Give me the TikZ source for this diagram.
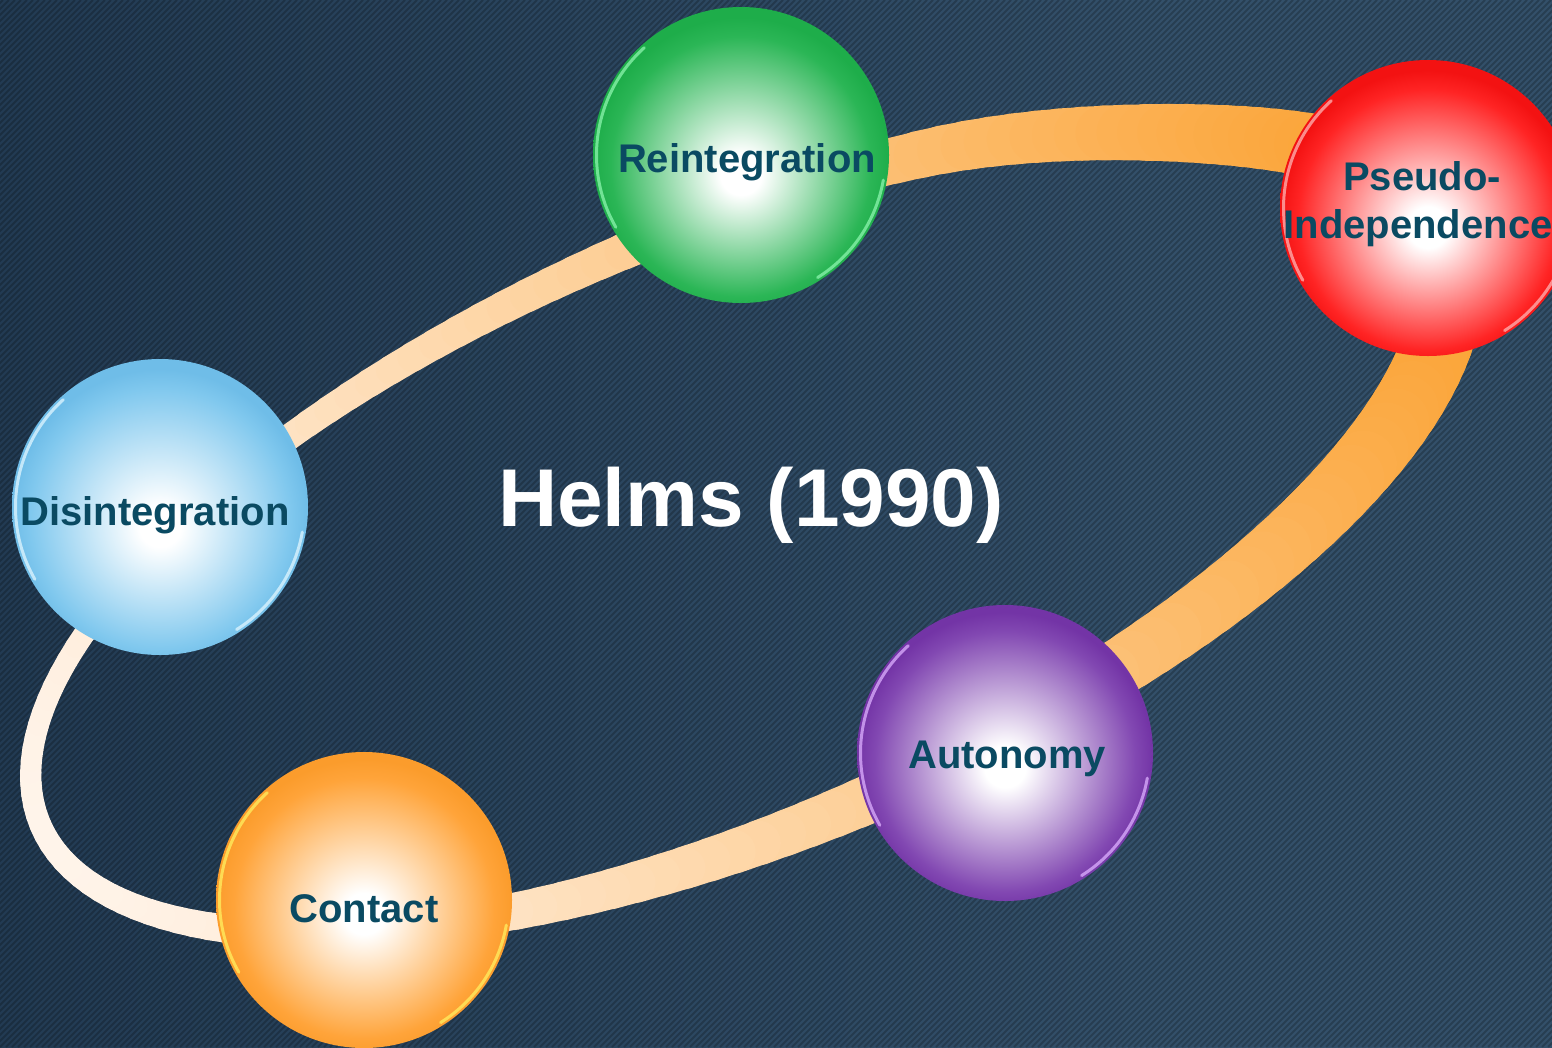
\documentclass[tikz,border=0pt]{standalone}
\usepackage{fontspec}
\setmainfont{Liberation Sans}

% backdrop
\definecolor{bgdark}{HTML}{223B53}
\definecolor{bglight}{HTML}{33506A}
% band
\definecolor{bandcream}{HTML}{FFF4EA}
\definecolor{bandorange}{HTML}{FBA232}
% labels
\definecolor{labelC}{HTML}{0A4A62}
% balls: body, edge, rim light
\definecolor{greenC}{HTML}{2BB656}\definecolor{greenD}{HTML}{1EAD4A}\definecolor{greenL}{HTML}{8CF5AE}
\definecolor{redC}{HTML}{FF2424}\definecolor{redD}{HTML}{F31212}\definecolor{redL}{HTML}{FFB4B4}
\definecolor{blueC}{HTML}{80C8EE}\definecolor{blueD}{HTML}{6FBDE8}\definecolor{blueL}{HTML}{E0F6FF}
\definecolor{orangeC}{HTML}{FFA43A}\definecolor{orangeD}{HTML}{FB9C2C}\definecolor{orangeL}{HTML}{FFF060}
\definecolor{purpleC}{HTML}{8248B2}\definecolor{purpleD}{HTML}{7334A6}\definecolor{purpleL}{HTML}{DDB0FF}

\pgfdeclarehorizontalshading{backdrop}{100bp}{color(0bp)=(bgdark); color(25bp)=(bgdark); color(62bp)=(bglight); color(75bp)=(bglight); color(100bp)=(bglight)}
\pgfdeclareradialshading{ballgreen}{\pgfpoint{0bp}{-3.5bp}}{color(0bp)=(white); color(3.5bp)=(white); color(22bp)=(greenC); color(25bp)=(greenD); color(50bp)=(greenD)}
\pgfdeclareradialshading{ballred}{\pgfpoint{0bp}{-3.5bp}}{color(0bp)=(white); color(3.5bp)=(white); color(22bp)=(redC); color(25bp)=(redD); color(50bp)=(redD)}
\pgfdeclareradialshading{ballblue}{\pgfpoint{0bp}{-3.5bp}}{color(0bp)=(white); color(3.5bp)=(white); color(22bp)=(blueC); color(25bp)=(blueD); color(50bp)=(blueD)}
\pgfdeclareradialshading{ballorange}{\pgfpoint{0bp}{-2.5bp}}{color(0bp)=(white); color(3.5bp)=(white); color(22bp)=(orangeC); color(25bp)=(orangeD); color(50bp)=(orangeD)}
\pgfdeclareradialshading{ballpurple}{\pgfpoint{0bp}{-2.5bp}}{color(0bp)=(white); color(3.5bp)=(white); color(22bp)=(purpleC); color(25bp)=(purpleD); color(50bp)=(purpleD)}

\begin{document}
\begin{tikzpicture}[x=1pt, y=-1pt,
  declare function={
    bump(\t)=12*max(0,1-((\t+38)/28)*((\t+38)/28))*max(0,1-((\t+38)/28)*((\t+38)/28));
    ex(\t)=740+760*cos(\t)*cos(23)+(300*sin(\t)+bump(\t))*sin(23);
    ey(\t)=528-760*cos(\t)*sin(23)+(300*sin(\t)+bump(\t))*cos(23);
    bw(\t)=44+24*cos(\t)+2*cos(2*\t)+6*sin(\t);
    bp(\t)=100*((1+cos(\t))/2)*(0.8+0.1*(1+cos(\t)));
  },
  stripe/.style={draw=black, opacity=0.22, line width=2},
  ball/.style={circle, minimum size=296, inner sep=0, shading=#1},
  rim/.style={draw=#1, line width=3, line cap=round, opacity=0.75},
  lbl/.style={text=labelC, font=\bfseries\fontsize{40}{48}\selectfont, anchor=base, inner sep=0},
  heading/.style={text=white, font=\bfseries\fontsize{82}{96}\selectfont, anchor=base, inner sep=0}
]
\useasboundingbox (0,0) rectangle (1552,1047);

% textured backdrop
\shade[shading=backdrop] (0,0) rectangle (1552,1047);
\begin{scope}
  \clip (0,0) rectangle (1552,1047);
  \draw[stripe] foreach \i in {-1056,-1050,...,1560} {(\i,1047) -- ++(1047,-1047)};
\end{scope}

% the cycle band: width and colour change along the loop
\foreach \t in {-180,-178,...,178} {
  \pgfmathsetmacro{\w}{bw(\t+1)}
  \pgfmathsetmacro{\p}{bp(\t+1)}
  \draw[line width=\w, line cap=round, draw=bandorange!\p!bandcream]
    ({ex(\t)},{ey(\t)}) -- ({ex(\t+2)},{ey(\t+2)});
}

% stages
\node[ball=ballgreen]  (reint)  at (741,155)  {};
\node[ball=ballred]    (pseudo) at (1428,208) {};
\node[ball=ballblue]   (disint) at (160,507)  {};
\node[ball=ballorange] (contact) at (364,900) {};
\node[ball=ballpurple] (auton)  at (1005,753) {};

% rim lights along the edges
\foreach \n/\c in {reint/greenL, pseudo/redL, disint/blueL, contact/orangeL, auton/purpleL} {
  \draw[rim=\c] (\n.center) ++(150:144.5) arc[start angle=150, end angle=228, radius=144.5];
  \draw[rim=\c] (\n.center) ++(10:144.5) arc[start angle=10, end angle=58, radius=144.5];
}

% labels
\node[lbl] (treint)  at (747,172)  {Reintegration};
\node[lbl] (tpseudo) at (1422,190) {Pseudo-};
\node[lbl] (tindep)  at (1418,238) {Independence};
\node[lbl] (tdisint) at (155,525)  {Disintegration};
\node[lbl] (tcontact) at (364,922) {Contact};
\node[lbl] (tauton)  at (1007,768) {Autonomy};

\node[heading] (title) at (751,526) {Helms (1990)};
\end{tikzpicture}
\end{document}
